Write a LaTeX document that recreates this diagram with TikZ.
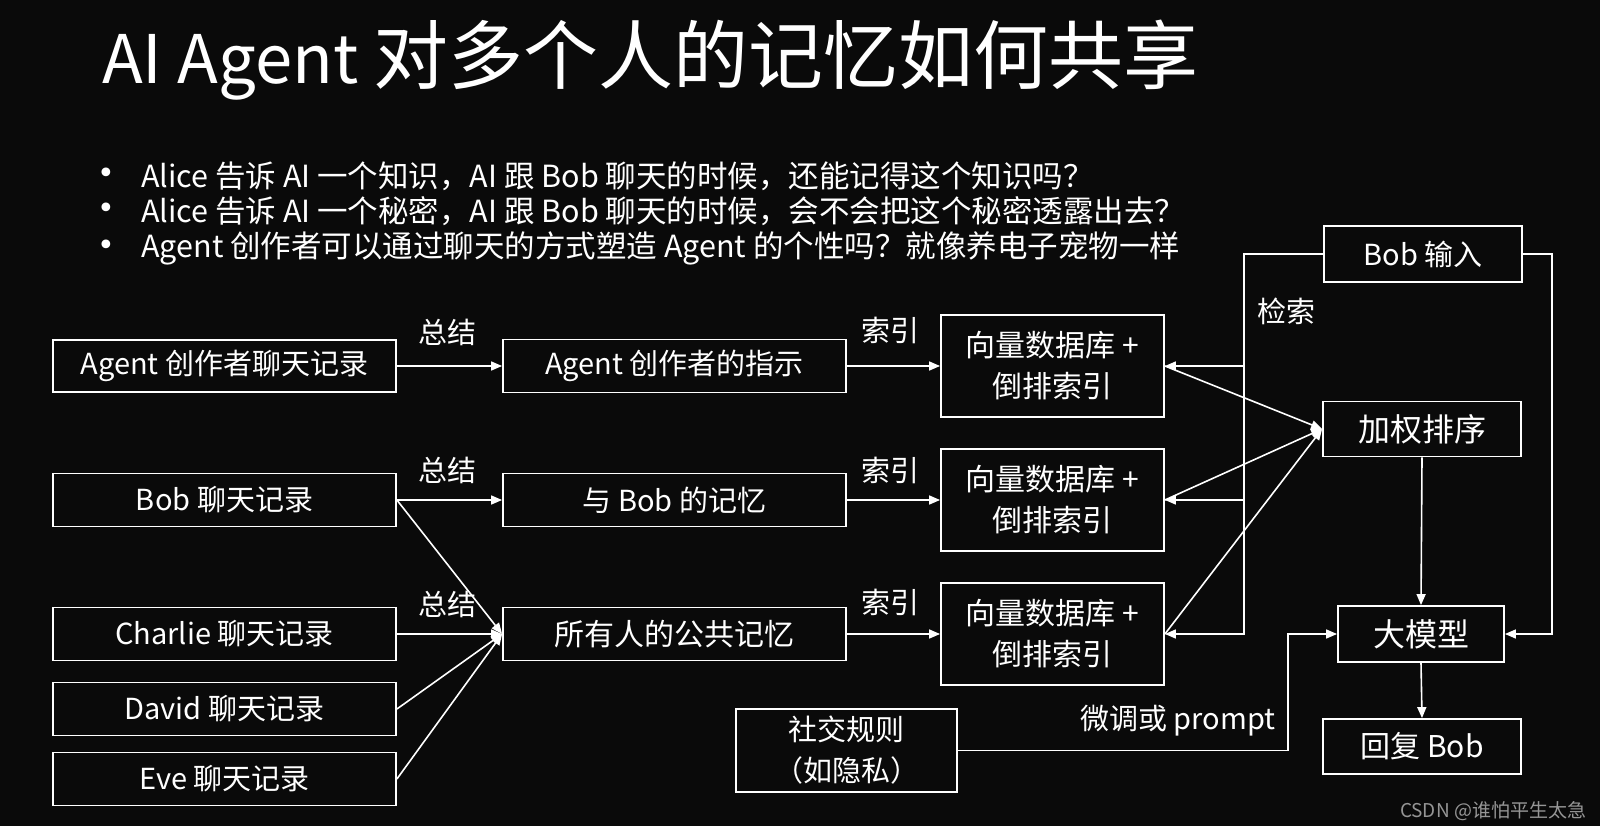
\documentclass[tikz,border=0pt]{standalone}
\usepackage{fontspec}
\setmainfont{Noto Sans CJK SC}
\newfontfamily\dejavu{DejaVu Sans}
\usetikzlibrary{arrows.meta}
\definecolor{bg}{RGB}{10,10,10}
\definecolor{wm}{RGB}{150,150,150}
\tikzset{
  bx/.style={draw=white, line width=1.8pt, text=white, inner sep=0pt, rectangle, align=center,
             font=\fontsize{29}{41}\selectfont},
  lbl/.style={text=white, inner sep=0pt, font=\fontsize{29}{36}\selectfont},
  arr/.style={draw=white, line width=1.6pt, -{Triangle[length=11pt,width=9pt]}},
  ln/.style={draw=white, line width=1.6pt},
  bul/.style={text=white, inner sep=0pt, anchor=west, font=\fontsize{30.5}{36}\selectfont},
  dot/.style={text=white, inner sep=0pt, font=\dejavu\fontsize{30}{36}\selectfont}
}
\begin{document}
\begin{tikzpicture}[x=1pt,y=-1pt]
\useasboundingbox (0,0) rectangle (1600,826);
\fill[bg] (0,0) rectangle (1600,826);

% title
\node[text=white, inner sep=0pt, anchor=west] (title) at (102,60) {\fontsize{67}{76}\selectfont AI Agent \fontsize{75}{80}\selectfont 对多个人的记忆如何共享};

% bullets
\node[dot] (d1b) at (106,176) {•};
\node[bul] (t1b) at (141,176) {Alice 告诉 AI 一个知识，AI 跟 Bob 聊天的时候，还能记得这个知识吗？};
\node[dot] (d2b) at (106,211) {•};
\node[bul] (t2b) at (141,211) {Alice 告诉 AI 一个秘密，AI 跟 Bob 聊天的时候，会不会把这个秘密透露出去？};
\node[dot] (d3b) at (106,248) {•};
\node[bul] (t3b) at (141,248) {Agent 创作者可以通过聊天的方式塑造 Agent 的个性吗？就像养电子宠物一样};

% left column
\node[bx, minimum width=343pt, minimum height=52pt] (a1) at (224.5,366) {Agent 创作者聊天记录};
\node[bx, minimum width=343pt, minimum height=53pt] (b1) at (224.5,500) {Bob 聊天记录};
\node[bx, minimum width=343pt, minimum height=53pt] (c1) at (224.5,634) {Charlie 聊天记录};
\node[bx, minimum width=343pt, minimum height=53pt] (d1) at (224.5,709) {David 聊天记录};
\node[bx, minimum width=343pt, minimum height=53pt] (e1) at (224.5,779) {Eve 聊天记录};

% middle column
\node[bx, minimum width=343pt, minimum height=53pt] (a2) at (674.5,366) {Agent 创作者的指示};
\node[bx, minimum width=343pt, minimum height=53pt] (b2) at (674.5,500) {与 Bob 的记忆};
\node[bx, minimum width=343pt, minimum height=53pt, font=\fontsize{30}{41}\selectfont] (c2) at (674.5,634) {所有人的公共记忆};

% vector db
\node[bx, minimum width=223pt, minimum height=102pt, font=\fontsize{30}{41}\selectfont] (db1) at (1052.5,366) {向量数据库 +\\倒排索引};
\node[bx, minimum width=223pt, minimum height=102pt, font=\fontsize{30}{41}\selectfont] (db2) at (1052.5,500) {向量数据库 +\\倒排索引};
\node[bx, minimum width=223pt, minimum height=102pt, font=\fontsize{30}{41}\selectfont] (db3) at (1052.5,634) {向量数据库 +\\倒排索引};

% right column
\node[bx, minimum width=198pt, minimum height=56pt] (r1) at (1423,254) {Bob 输入};
\node[bx, minimum width=198pt, minimum height=55pt, font=\fontsize{32}{41}\selectfont] (r2) at (1422,429) {加权排序};
\node[bx, minimum width=166pt, minimum height=56pt, font=\fontsize{32}{41}\selectfont] (r3) at (1421,634) {大模型};
\node[bx, minimum width=198pt, minimum height=55pt, font=\fontsize{30}{41}\selectfont] (r4) at (1422,746.5) {回复 Bob};

% social rules
\node[bx, minimum width=221pt, minimum height=83pt] (s) at (846.5,750.5) {社交规则\\（如隐私）};

% labels
\node[lbl] (l1) at (447,332) {总结};
\node[lbl] (l2) at (447,470) {总结};
\node[lbl] (l3) at (447,604) {总结};
\node[lbl] (i1) at (890,330) {索引};
\node[lbl] (i2) at (890,470) {索引};
\node[lbl] (i3) at (890,602) {索引};
\node[lbl] (jl) at (1286,311) {检索};
\node[lbl] (pl) at (1178,721) {微调或 prompt};

% watermark
\node[text=wm, inner sep=0pt, font=\fontsize{19}{22}\selectfont] (wmk) at (1493,811) {CSDN @谁怕平生太急};

% connectors left
\draw[arr] (a1.east) -- (a2.west);
\draw[arr] (b1.east) -- (b2.west);
\draw[arr] (b1.east) -- (c2.west);
\draw[arr] (c1.east) -- (c2.west);
\draw[arr] (d1.east) -- (c2.west);
\draw[arr] (e1.east) -- (c2.west);

% index arrows
\draw[arr] (a2.east) -- (db1.west);
\draw[arr] (b2.east) -- (db2.west);
\draw[arr] (c2.east) -- (db3.west);

% retrieval trunk
\coordinate (t2) at (1244,366);
\coordinate (t3) at (1244,500);
\coordinate (t4) at (1244,634);
\draw[arr] (r1.west) -| (t4) -- (db3.east);
\draw[arr] (t2) -- (db1.east);
\draw[arr] (t3) -- (db2.east);

% db to ranking
\draw[arr] (db1.east) -- (r2.west);
\draw[arr] (db2.east) -- (r2.west);
\draw[arr] (db3.east) -- (r2.west);

% right trunk
\coordinate (u1) at (1552,254);
\coordinate (u2) at (1552,634);
\draw[arr] (r1.east) -- (u1) -- (u2) -- (r3.east);

% vertical flow
\draw[arr] (r2.south) -- (r3.north);
\draw[arr] (r3.south) -- (r4.north);

% prompt
\coordinate (p1) at (1288,634);
\draw[arr] (s.east) -| (p1) -- (r3.west);
\end{tikzpicture}
\end{document}
